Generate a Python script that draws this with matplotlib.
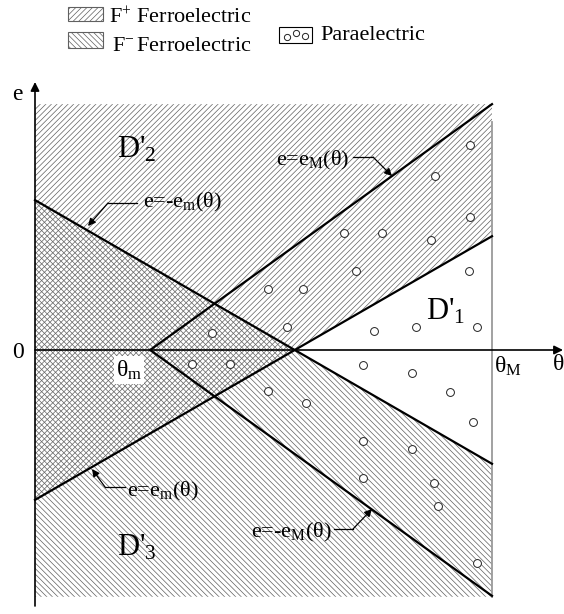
import matplotlib
matplotlib.use("Agg")
import matplotlib.pyplot as plt
from matplotlib.patches import Polygon, Rectangle

plt.rcParams['font.family'] = ['Liberation Serif', 'DejaVu Serif']
plt.rcParams['mathtext.fontset'] = 'custom'
plt.rcParams['mathtext.rm'] = 'Liberation Serif'
plt.rcParams['mathtext.it'] = 'Liberation Serif:italic'
plt.rcParams['hatch.linewidth'] = 0.5

# ---------------- data (theta, e) ----------------
theta_m = 2.52
theta_M = 10.0
e_top = 5.38
e_bot = -5.40
# e = e_m(theta) straight line (the -e_m line is its mirror)
em_theta = [0.0, 10.0]
em_vals = [-3.28, 2.49]
# e = e_M(theta) straight line (the -e_M line is its mirror)
eM_theta = [2.52, 10.0]
eM_vals = [0.0, 5.38]
# paraelectric markers
para_theta = [9.52, 8.75, 9.52, 6.76, 7.59, 8.67, 7.02, 9.50, 5.10, 5.86,
              5.51, 7.42, 8.34, 9.67, 3.87, 3.44, 4.27, 5.10, 7.18, 8.25,
              9.08, 9.58, 5.93, 7.18, 8.25, 7.18, 8.73, 8.82, 9.67]
para_e = [4.49, 3.81, 2.91, 2.56, 2.56, 2.41, 1.73, 1.73, 1.34, 1.34,
          0.50, 0.42, 0.50, 0.50, 0.37, -0.31, -0.31, -0.90, -0.33, -0.50,
          -0.92, -1.58, -1.16, -1.99, -2.17, -2.80, -2.91, -3.41, -4.66]

# ---------------- layout helpers ----------------
S = 45.7           # pixels per data unit
OX, OY = 35, 350   # pixel position of origin


def P(x, y):
    return ((x - OX) / S, (OY - y) / S)


fig = plt.figure(figsize=(5.64, 6.14), dpi=100)
ax = fig.add_axes([0, 0, 1, 1])
ax.set_xlim(-OX / S, (564 - OX) / S)
ax.set_ylim((OY - 614) / S, OY / S)
ax.axis('off')

HC = '#606060'
# ---------------- regions ----------------
fplus = Polygon([(em_theta[0], em_vals[0]), (em_theta[1], em_vals[1]),
                 (theta_M, e_top), (0, e_top)], closed=True,
                facecolor='none', edgecolor=HC, hatch='//////', lw=0, zorder=1)
fminus = Polygon([(em_theta[0], -em_vals[0]), (em_theta[1], -em_vals[1]),
                  (theta_M, e_bot), (0, e_bot)], closed=True,
                 facecolor='none', edgecolor=HC, hatch='\\' * 6, lw=0, zorder=1)
ax.add_patch(fplus)
ax.add_patch(fminus)

# ---------------- boundary lines ----------------
lw_b = 1.6
ax.plot(em_theta, em_vals, color='black', lw=lw_b, zorder=3)
ax.plot(em_theta, [-v for v in em_vals], color='black', lw=lw_b, zorder=3)
ax.plot(eM_theta, eM_vals, color='black', lw=lw_b, zorder=3)
ax.plot(eM_theta, [-v for v in eM_vals], color='black', lw=lw_b, zorder=3)

# theta_M vertical line
ax.plot([theta_M, theta_M], [e_bot, P(0, 122)[1]], color='#9a9a9a', lw=1.3, zorder=2)

# paraelectric circles
ax.scatter(para_theta, para_e, s=32, facecolors='white', edgecolors='#222222',
           linewidths=0.7, zorder=4)

# ---------------- axes with arrows ----------------
ax.annotate('', xy=(0, P(0, 82)[1]), xytext=(0, P(0, 606)[1]),
            arrowprops=dict(arrowstyle='-|>', lw=1.2, color='black',
                            mutation_scale=13, shrinkA=0, shrinkB=0), zorder=5)
ax.annotate('', xy=(P(563, 0)[0], 0), xytext=(0, 0),
            arrowprops=dict(arrowstyle='-|>', lw=1.2, color='black',
                            mutation_scale=13, shrinkA=0, shrinkB=0), zorder=5)

# ---------------- axis labels ----------------
ax.text(*P(18, 352), '0', fontsize=17, ha='center', va='center')
ax.text(*P(17, 94), 'e', fontsize=17, ha='center', va='center')
ax.text(*P(116, 370), r'θ$_{\rm m}$', fontsize=17, ha='left', va='center',
        bbox=dict(facecolor='white', edgecolor='none', pad=1.5), zorder=6)
ax.text(*P(494, 366), r'θ$_{\rm M}$', fontsize=17, ha='left', va='center', zorder=6)
ax.text(*P(553, 364), 'θ', fontsize=17, ha='left', va='center', zorder=6)

# region names
ax.text(*P(117, 150), r"D$'_{2}$", fontsize=22, ha='left', va='center', zorder=6)
ax.text(*P(426, 312), r"D$'_{1}$", fontsize=22, ha='left', va='center', zorder=6)
ax.text(*P(117, 548), r"D$'_{3}$", fontsize=22, ha='left', va='center', zorder=6)

# ---------------- curve labels with leaders ----------------
def leader(text, tx, ty, ha, pts, tip):
    ax.text(*P(tx, ty), text, fontsize=16, ha=ha, va='baseline', zorder=6)
    xs = [P(*p)[0] for p in pts]
    ys = [P(*p)[1] for p in pts]
    ax.plot(xs, ys, color='black', lw=0.9, zorder=6)
    ax.annotate('', xy=P(*tip), xytext=P(*pts[-1]),
                arrowprops=dict(arrowstyle='-|>', lw=0.9, color='black',
                                mutation_scale=11, shrinkA=0, shrinkB=0), zorder=6)


leader(r'e=e$_{\rm M}$(θ)', 276, 165, 'left', [(353, 157), (373, 157)], (392, 176))
leader(r'e=-e$_{\rm m}$(θ)', 143, 207, 'left', [(137, 203), (108, 203)], (88, 226))
leader(r'e=e$_{\rm m}$(θ)', 127, 496, 'left', [(125, 487), (105, 487)], (92, 469))
leader(r'e=-e$_{\rm M}$(θ)', 332, 537, 'right', [(334, 529), (353, 529)], (372, 509))

# ---------------- legend ----------------
ax.add_patch(Rectangle(P(68, 21), 35 / S, 14 / S, facecolor='white',
                       edgecolor=HC, hatch='//////', lw=0.8, zorder=6))
ax.text(*P(109, 23), r'F$^{+}$ Ferroelectric', fontsize=16, ha='left', va='baseline')
ax.add_patch(Rectangle(P(68, 48), 35 / S, 16 / S, facecolor='white',
                       edgecolor=HC, hatch='\\' * 6, lw=0.8, zorder=6))
ax.text(*P(112, 51), r'F$^{-}\,$Ferroelectric', fontsize=16, ha='left', va='baseline')
ax.add_patch(Rectangle(P(279, 43), 33 / S, 16 / S, facecolor='white',
                       edgecolor='black', lw=0.8, zorder=6))
ax.scatter([P(287, 37)[0], P(296, 33)[0], P(305, 36)[0]],
           [P(287, 37)[1], P(296, 33)[1], P(305, 36)[1]],
           s=20, facecolors='white', edgecolors='#222222', linewidths=0.7, zorder=7)
ax.text(*P(320, 40), 'Paraelectric', fontsize=16, ha='left', va='baseline')

fig.savefig('out.png', dpi=100)
